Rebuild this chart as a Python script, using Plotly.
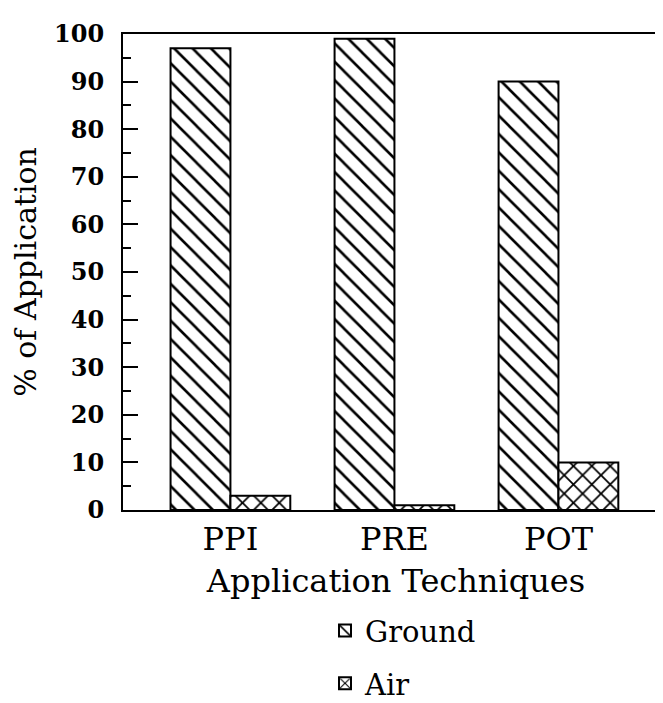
import plotly.graph_objects as go

categories = ["PPI", "PRE", "POT"]
ground = [97, 99, 90]
air = [3, 1, 10]
y_ticks = [0, 10, 20, 30, 40, 50, 60, 70, 80, 90, 100]

FONT = "DejaVu Serif"

fig = go.Figure()
fig.add_trace(go.Bar(
    name="Ground", x=categories, y=ground, legendgroup="ground",
    marker=dict(color="white", line=dict(color="black", width=2),
                pattern=dict(shape="\\", fgcolor="black", bgcolor="white",
                             fgopacity=1, size=13, solidity=0.2)),
))
fig.add_trace(go.Bar(
    name="Air", x=categories, y=air, legendgroup="air",
    marker=dict(color="white", line=dict(color="black", width=2),
                pattern=dict(shape="x", fgcolor="black", bgcolor="white",
                             fgopacity=1, size=13, solidity=0.25)),
))

fig.update_layout(
    width=663, height=703,
    margin=dict(l=115, r=2, t=26, b=201, autoexpand=False),
    paper_bgcolor="white", plot_bgcolor="white",
    barmode="group", bargap=0.27, bargroupgap=0,
    font=dict(family=FONT, color="black", size=30),
    showlegend=True,
    legend=dict(x=0.37, y=-0.2, xanchor="left", yanchor="top",
                font=dict(family=FONT, size=29), tracegroupgap=12,
                bgcolor="rgba(0,0,0,0)"),
)
fig.update_yaxes(
    range=[0, 100], tickvals=y_ticks, ticks="inside", ticklen=15, tickwidth=2,
    tickcolor="black",
    minor=dict(dtick=5, ticks="inside", ticklen=8, tickwidth=1.5, tickcolor="black"),
    showline=True, linecolor="black", linewidth=2, mirror=True,
    showgrid=False, zeroline=False,
    ticklabelstandoff=12,
    tickfont=dict(family=FONT, size=24, weight="bold"),
    title=dict(text="% of Application", font=dict(family=FONT, size=30), standoff=10),
)
fig.update_xaxes(
    range=[-0.655, 2.674], ticks="", showline=True, linecolor="black", linewidth=2,
    mirror=True, showgrid=False, tickangle=0,
    tickfont=dict(family=FONT, size=32),
    title=dict(text="Application Techniques", font=dict(family=FONT, size=32), standoff=12),
)

fig.write_html("out.html")
